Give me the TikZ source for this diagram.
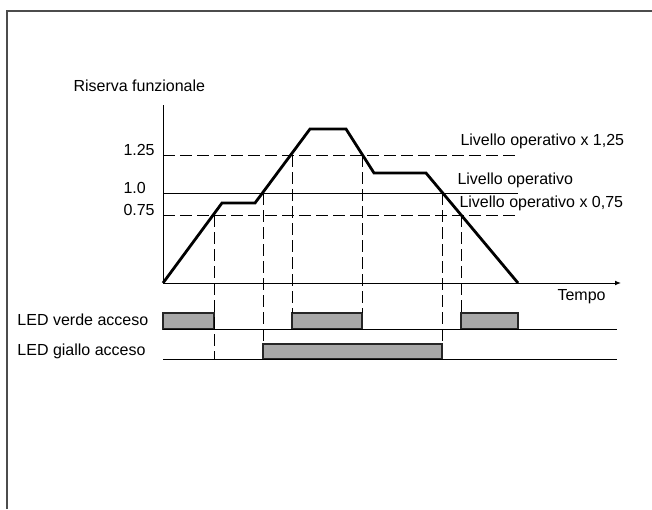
\documentclass[tikz,border=0pt]{standalone}
\usepackage{fontspec}
\setmainfont{Liberation Sans}
\usetikzlibrary{arrows.meta,positioning}

\begin{document}
\begin{tikzpicture}[x=0.5pt,y=-0.5pt,line width=.5pt,
  every node/.style={inner sep=0,font=\fontsize{8}{9.6}\selectfont},
  guide/.style={dash pattern=on 6pt off 2.5pt},
  ledbox/.style={draw=black!85,line width=.8pt,fill=black!34}]

 \useasboundingbox (0,0) rectangle (652,509);
 \draw[line width=1pt,black!70] (7,509) -- (7,11) -- (652,11);

 \node[anchor=base west] (riserva) at (73,91) {Riserva funzionale};
 \node[anchor=base west] (v125) at (123,155) {1.25};
 \node[anchor=base west] (v100) at (123,193) {1.0};
 \node[anchor=base west] (v075) at (123,215) {0.75};
 \node[anchor=base west] (op125) at (460,145) {Livello operativo x 1,25};
 \node[anchor=base west] (op100) at (457,184) {Livello operativo};
 \node[anchor=base west] (op075) at (459,207) {Livello operativo x 0,75};
 \node[anchor=base west] (tempo) at (557,300) {Tempo};
 \node[anchor=base west] (verde) at (17,325) {LED verde acceso};
 \node[anchor=base west] (giallo) at (17,355) {LED giallo acceso};

 \coordinate (O) at (163,283);
 \coordinate (ytop) at (163,105);
 \coordinate (xend) at (621,283);
 \coordinate (a125) at (163,155);
 \coordinate (b125) at (518,155);
 \coordinate (a100) at (163,193);
 \coordinate (b100) at (518,193);
 \coordinate (a075) at (163,215);
 \coordinate (b075) at (518,215);

 \draw (O) -- (ytop);
 \draw[-{Latex[length=3pt,width=2.4pt]}] (O) -- (xend);
 \draw[guide] (a125) -- (b125);
 \draw (a100) -- (b100);
 \draw[guide] (a075) -- (b075);

 % curve
 \coordinate (p1) at (222,203);
 \coordinate (p2) at (255,203);
 \coordinate (p3) at (310,129);
 \coordinate (p4) at (346,129);
 \coordinate (p5) at (374,173);
 \coordinate (p6) at (426,173);
 \coordinate (p7) at (518,283);
 \draw[line width=1.4pt,line join=miter] (O) -- (p1) -- (p2) -- (p3) -- (p4) -- (p5) -- (p6) -- (p7);

 % crossings
 \coordinate (c1) at (214,215);
 \coordinate (c2) at (263,193);
 \coordinate (c3) at (292,155);
 \coordinate (c4) at (362,155);
 \coordinate (c5) at (442,193);
 \coordinate (c6) at (461,215);

 \coordinate (grntop) at (163,313);
 \coordinate (grn) at (163,329);
 \coordinate (ylwtop) at (163,344);
 \coordinate (ylw) at (163,359);

 \foreach \a/\b in {163/214,292/362,461/518}
  \draw[ledbox] (\a,313) rectangle (\b,329);
 \draw[ledbox] (263,344) rectangle (442,359);

 \draw (grn) -- (617,329);
 \draw (ylw) -- (617,359);

 \foreach \c/\e in {c1/ylw,c2/ylwtop,c3/grntop,c4/grntop,c5/ylwtop,c6/grntop}
  \draw[guide] (\c) -- (\c |- \e);
\end{tikzpicture}
\end{document}
